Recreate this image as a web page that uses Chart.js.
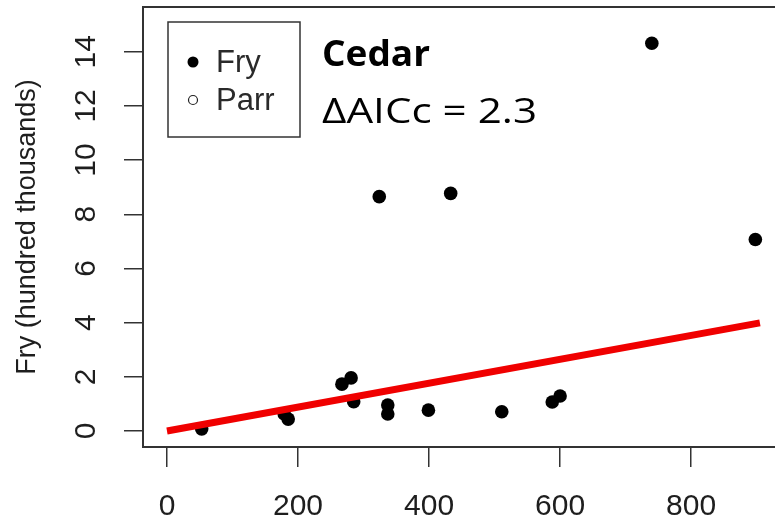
<!DOCTYPE html>
<html><head><meta charset="utf-8">
<script src="https://cdn.jsdelivr.net/npm/chart.js@4"></script>
<style>html,body{margin:0;padding:0;background:#fff;overflow:hidden}</style>
</head><body>
<canvas id="c" width="775" height="523"></canvas>
<script>
// ---- data ----
const fryX = [53, 179, 185, 267, 281, 285, 324, 337, 337, 399, 433, 511, 588, 600, 740, 898];
const fryY = [0.08, 0.63, 0.44, 1.73, 1.96, 1.08, 8.65, 0.96, 0.63, 0.77, 8.77, 0.71, 1.07, 1.29, 14.31, 7.07];
const parrX = [];
const parrY = [];
const fitX = [0, 905];
const fitY = [0, 3.99];
const xTicks = [0, 200, 400, 600, 800];
const yTicks = [0, 2, 4, 6, 8, 10, 12, 14];
const seriesNames = ['Fry', 'Parr'];
const yTitle = 'Fry (hundred thousands)';
const siteName = 'Cedar';
const statText = 'ΔAICc = 2.3';

const toPts = (xs, ys) => xs.map((x, i) => ({x: x, y: ys[i]}));
const AX = '#333';
const TXT = '#1e1e1e';

const frame = {
  id: 'frame',
  afterDraw(chart) {
    const ctx = chart.ctx, a = chart.chartArea;
    ctx.save();
    ctx.strokeStyle = AX; ctx.lineWidth = 2;
    ctx.beginPath(); ctx.moveTo(a.left - 1, a.top); ctx.lineTo(a.right, a.top); ctx.stroke();
    // rotated y tick labels (R style)
    const s = chart.scales.y;
    ctx.font = '30px "Liberation Sans", Arial, sans-serif';
    ctx.fillStyle = TXT; ctx.textAlign = 'center'; ctx.textBaseline = 'middle';
    s.ticks.forEach(t => {
      const y = s.getPixelForValue(t.value);
      ctx.save(); ctx.translate(s.right - 56, y); ctx.rotate(-Math.PI / 2);
      ctx.fillText(String(t.value), 0, 0); ctx.restore();
    });
    // legend box
    const L = a.left + 25, T = a.top + 15, W = 132, H = 115;
    ctx.lineWidth = 1.5; ctx.strokeStyle = AX;
    ctx.strokeRect(L, T, W, H);
    ctx.font = '31px "Liberation Sans", Arial, sans-serif';
    ctx.textAlign = 'left'; ctx.textBaseline = 'middle';
    const legendSets = chart.data.datasets.filter(d => d.inLegend);
    legendSets.forEach((d, i) => {
      const cy = T + 40 + i * 38;
      ctx.beginPath();
      if (d.backgroundColor !== 'transparent') { ctx.arc(L + 25, cy, 5.5, 0, Math.PI * 2); ctx.fillStyle = d.backgroundColor; ctx.fill(); }
      else { ctx.arc(L + 25, cy, 4.5, 0, Math.PI * 2); ctx.lineWidth = 1.2; ctx.strokeStyle = '#222'; ctx.stroke(); }
      ctx.fillStyle = '#2a2a2a';
      ctx.fillText(d.label, L + 48, cy + 1);
    });
    // annotation text
    ctx.fillStyle = '#000'; ctx.textBaseline = 'alphabetic';
    ctx.font = 'bold 35px "Open Sans", sans-serif';
    let w = ctx.measureText(siteName).width;
    ctx.save(); ctx.translate(a.left + 179, a.top + 59); ctx.scale(108 / w, 1);
    ctx.fillText(siteName, 0, 0); ctx.restore();
    ctx.font = '35px "Open Sans", sans-serif';
    w = ctx.measureText(statText).width;
    ctx.save(); ctx.translate(a.left + 179, a.top + 116); ctx.scale(215 / w, 1);
    ctx.fillText(statText, 0, 0); ctx.restore();
    ctx.restore();
  }
};

new Chart(document.getElementById('c'), {
  type: 'scatter',
  data: {
    datasets: [
      { label: 'fit', type: 'line', data: toPts(fitX, fitY), borderColor: '#f00000', borderWidth: 7,
        pointRadius: 0, fill: false, order: 0, borderCapStyle: 'butt' },
      { label: seriesNames[0], inLegend: true, data: toPts(fryX, fryY), backgroundColor: '#000', borderColor: '#000',
        pointRadius: 6.8, borderWidth: 0, order: 1 },
      { label: seriesNames[1], inLegend: true, data: toPts(parrX, parrY), backgroundColor: 'transparent', borderColor: '#000',
        pointRadius: 5, borderWidth: 1, order: 2 }
    ]
  },
  options: {
    responsive: false, animation: false, devicePixelRatio: 1,
    layout: { autoPadding: false, padding: { top: 7, right: 0, left: 0, bottom: 0 } },
    plugins: { legend: { display: false }, tooltip: { enabled: false } },
    scales: {
      x: {
        type: 'linear', min: -36.6, max: 928,
        afterBuildTicks: s => { s.ticks = xTicks.map(v => ({ value: v })); },
        afterFit: s => { s.height = 76; s.paddingLeft = 0; s.paddingRight = 0; },
        grid: { display: true, drawOnChartArea: false, drawTicks: true, tickLength: 20, color: AX, lineWidth: 1.5 },
        border: { display: true, color: AX, width: 2 },
        ticks: { font: { family: '"Liberation Sans", Arial, sans-serif', size: 30 }, color: TXT, padding: 22, maxRotation: 0, autoSkip: false }
      },
      y: {
        type: 'linear', min: -0.59, max: 15.65,
        afterBuildTicks: s => { s.ticks = yTicks.map(v => ({ value: v })); },
        afterFit: s => { s.width = 143; s.paddingTop = 0; s.paddingBottom = 0; },
        grid: { display: true, drawOnChartArea: false, drawTicks: true, tickLength: 19, color: AX, lineWidth: 1.5 },
        border: { display: true, color: AX, width: 2 },
        ticks: { display: false },
        title: { display: true, text: yTitle, color: TXT, font: { family: '"Liberation Sans", Arial, sans-serif', size: 27 }, padding: { top: 11, bottom: 0 } }
      }
    }
  },
  plugins: [frame]
});
</script>
</body></html>
